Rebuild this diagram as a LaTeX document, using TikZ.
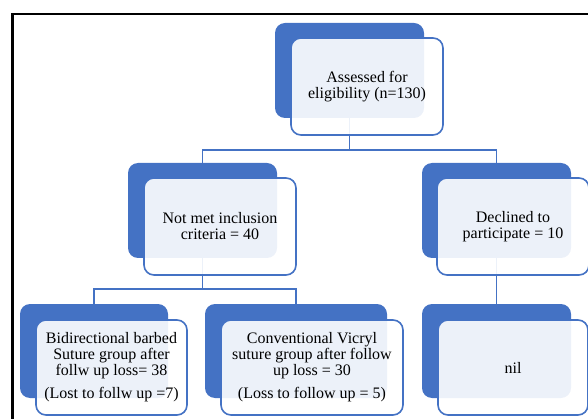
\documentclass[tikz,border=0pt]{standalone}
\usepackage{fontspec}
\setmainfont{Liberation Serif}
\definecolor{myblue}{HTML}{4472C4}
\begin{document}
\begin{tikzpicture}[x=1pt,y=-1pt,
  backbox/.style={fill=myblue, draw=none, rounded corners=10pt, inner sep=0pt},
  frontbox/.style={draw=myblue, line width=1.6pt, fill=white, fill opacity=0.9, text opacity=1,
    rounded corners=10pt, inner sep=0pt, align=center, text=black,
    font=\fontsize{16}{16}\selectfont},
  conn/.style={draw=myblue, line width=1.9pt}]
\useasboundingbox (0,0) rectangle (588,419);
\clip (0,0) rectangle (588,419);
\draw[line width=2.5pt, black] (12.5,14) rectangle (640,460);
% back boxes
\node[backbox, minimum width=149pt, minimum height=95pt] (topB) at (349.5,70.5) {};
\node[backbox, minimum width=149pt, minimum height=95pt] (notB) at (202.5,210.5) {};
\node[backbox, minimum width=149pt, minimum height=95pt] (decB) at (496.5,210.5) {};
\node[backbox, minimum width=148pt, minimum height=94pt] (bidB) at (94,351) {};
\node[backbox, minimum width=182pt, minimum height=94pt] (conB) at (296,351) {};
\node[backbox, minimum width=149pt, minimum height=94pt] (nilB) at (496.5,351) {};
% connectors
\coordinate (j1) at (349.5,150);
\coordinate (j2) at (202.5,289);
\draw[conn] (topB.south) -- (j1);
\draw[conn] (notB.north) |- (j1) -| (decB.north);
\draw[conn] (notB.south) -- (j2);
\draw[conn] (bidB.north) |- (j2) -| (conB.north);
\draw[conn] (decB.south) -- (nilB.north);
% front boxes
\node[frontbox, minimum width=152pt, minimum height=97pt] (topF) at (367,86.5) {Assessed for\\eligibility (n=130)};
\node[frontbox, minimum width=152pt, minimum height=97pt] (notF) at (220,226.5) {Not met inclusion\\criteria = 40};
\node[frontbox, minimum width=152pt, minimum height=97pt] (decF) at (513,226.5) {Declined to\\participate = 10};
\node[frontbox, minimum width=151pt, minimum height=95pt] (bidF) at (111.5,367.5) {Bidirectional barbed\\Suture group after\\follw up loss= 38\\[7pt](Lost to follw up =7)};
\node[frontbox, minimum width=182pt, minimum height=95pt] (conF) at (312,367.5) {Conventional Vicryl\\suture group after follow\\up loss = 30\\[7pt](Loss to follow up = 5)};
\node[frontbox, minimum width=150pt, minimum height=95pt] (nilF) at (513,367.5) {nil};
\end{tikzpicture}
\end{document}
